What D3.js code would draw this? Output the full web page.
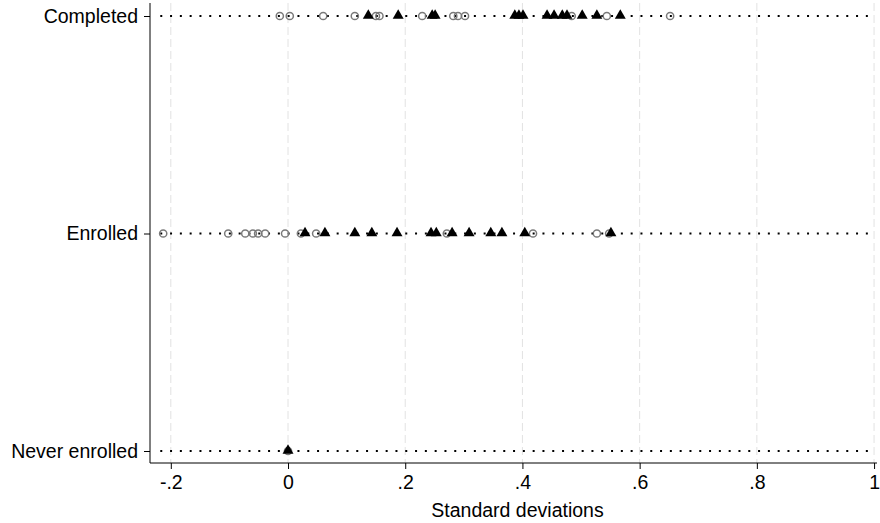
<!DOCTYPE html>
<html lang="en">
<head>
    <meta charset="UTF-8">
    <title>Dot plot - standard deviations</title>
    <script src="https://d3js.org/d3.v7.min.js"></script>
    <style>
        body {
            margin: 0;
            padding: 0;
            background: #fff;
        }
        svg {
            display: block;
            font-family: "Liberation Sans", Arial, sans-serif;
        }
    </style>
</head>
<body>
    <div id="chart"></div>

    <script>
        const width = 880, height = 523;

        // rows, bottom to top
        const categories = ["Never enrolled", "Enrolled", "Completed"];
        const xTicks = [-0.2, 0, 0.2, 0.4, 0.6, 0.8, 1];
        const xTickLabels = ["-.2", "0", ".2", ".4", ".6", ".8", "1"];

        // hollow circles (first series)
        const circleNever = [0];
        const circleEnrolled = [-0.213, -0.102, -0.073, -0.060, -0.051, -0.039, -0.005, 0.022, 0.048, 0.271, 0.418, 0.527, 0.548];
        const circleCompleted = [-0.014, 0.003, 0.060, 0.114, 0.150, 0.156, 0.229, 0.282, 0.290, 0.302, 0.484, 0.544, 0.652];

        // filled triangles (second series)
        const triNever = [0];
        const triEnrolled = [0.029, 0.063, 0.114, 0.143, 0.186, 0.244, 0.253, 0.280, 0.309, 0.346, 0.365, 0.404, 0.551];
        const triCompleted = [0.137, 0.188, 0.246, 0.251, 0.387, 0.394, 0.401, 0.442, 0.454, 0.468, 0.476, 0.502, 0.527, 0.567];

        const circleRows = [circleNever, circleEnrolled, circleCompleted];
        const triRows = [triNever, triEnrolled, triCompleted];

        const plotLeft = 150, plotRight = 877, plotTop = 3, plotBottom = 463;
        const fontSize = 19.5;

        const svg = d3.select("#chart")
            .append("svg")
            .attr("width", width)
            .attr("height", height);

        const x = d3.scaleLinear()
            .domain([-0.2355, 1.005])
            .range([plotLeft, plotRight]);

        const y = d3.scalePoint()
            .domain(categories)
            .range([451, 16]);

        // dashed vertical grid
        svg.append("g")
            .selectAll("line")
            .data(xTicks)
            .join("line")
            .attr("x1", d => x(d))
            .attr("x2", d => x(d))
            .attr("y1", plotTop)
            .attr("y2", plotBottom)
            .attr("stroke", "#e2e2e2")
            .attr("stroke-width", 1)
            .attr("stroke-dasharray", "8,4");

        // dotted row lines
        svg.append("g")
            .selectAll("line")
            .data(categories)
            .join("line")
            .attr("x1", x(-0.218))
            .attr("x2", x(0.99))
            .attr("y1", d => y(d))
            .attr("y2", d => y(d))
            .attr("stroke", "#000")
            .attr("stroke-width", 2)
            .attr("stroke-dasharray", "2,7.8");

        // flatten points
        const circles = [], tris = [];
        categories.forEach((c, i) => {
            circleRows[i].forEach(v => circles.push({ cat: c, v }));
            triRows[i].forEach(v => tris.push({ cat: c, v }));
        });

        svg.append("g")
            .selectAll("circle")
            .data(circles)
            .join("circle")
            .attr("cx", d => x(d.v))
            .attr("cy", d => y(d.cat))
            .attr("r", 3.6)
            .attr("fill", "none")
            .attr("stroke", "#7a7a7a")
            .attr("stroke-width", 1.5);

        const tri = d3.symbol().type(d3.symbolTriangle).size(52);
        svg.append("g")
            .selectAll("path")
            .data(tris)
            .join("path")
            .attr("d", tri)
            .attr("transform", d => `translate(${x(d.v)},${y(d.cat) - 0.5})`)
            .attr("fill", "#000");

        // y axis
        const yAxis = svg.append("g")
            .attr("transform", `translate(${plotLeft},0)`)
            .call(d3.axisLeft(y).tickSize(6).tickPadding(6));
        yAxis.select(".domain").attr("d", `M0,${plotTop}V${plotBottom}`).attr("stroke", "#000");
        yAxis.selectAll("text").attr("font-size", fontSize).attr("fill", "#000")
            .attr("font-family", "Liberation Sans, Arial, sans-serif");

        // x axis
        const xAxis = svg.append("g")
            .attr("transform", `translate(0,${plotBottom})`)
            .call(d3.axisBottom(x).tickValues(xTicks).tickFormat((d, i) => xTickLabels[i]).tickSize(6).tickPadding(6));
        xAxis.select(".domain").attr("d", `M${plotLeft},0H${plotRight}`).attr("stroke", "#000");
        xAxis.selectAll("text").attr("font-size", fontSize).attr("fill", "#000")
            .attr("font-family", "Liberation Sans, Arial, sans-serif");

        // axis title
        svg.append("text")
            .attr("x", (plotLeft + plotRight) / 2 + 4)
            .attr("y", 517)
            .attr("text-anchor", "middle")
            .attr("font-size", fontSize)
            .text("Standard deviations");
    </script>
</body>
</html>
